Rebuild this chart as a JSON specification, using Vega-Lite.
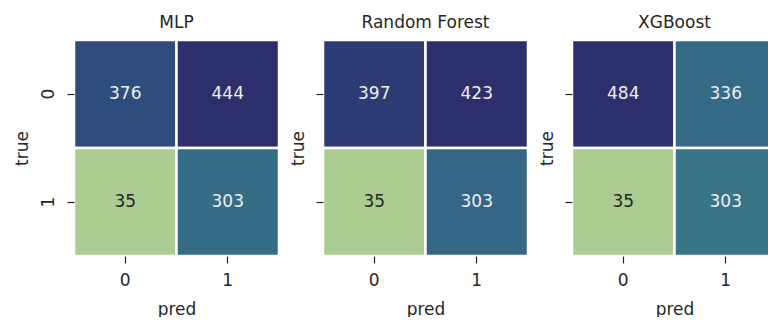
{
  "$schema": "https://vega.github.io/schema/vega-lite/v6.json",
  "padding": {"left": 13, "top": 13, "right": 0, "bottom": 0},
  "background": "white",
  "datasets": {
    "cm": [
      {"model": "MLP", "true": "0", "pred": "0", "n": 376},
      {"model": "MLP", "true": "0", "pred": "1", "n": 444},
      {"model": "MLP", "true": "1", "pred": "0", "n": 35},
      {"model": "MLP", "true": "1", "pred": "1", "n": 303},
      {"model": "Random Forest", "true": "0", "pred": "0", "n": 397},
      {"model": "Random Forest", "true": "0", "pred": "1", "n": 423},
      {"model": "Random Forest", "true": "1", "pred": "0", "n": 35},
      {"model": "Random Forest", "true": "1", "pred": "1", "n": 303},
      {"model": "XGBoost", "true": "0", "pred": "0", "n": 484},
      {"model": "XGBoost", "true": "0", "pred": "1", "n": 336},
      {"model": "XGBoost", "true": "1", "pred": "0", "n": 35},
      {"model": "XGBoost", "true": "1", "pred": "1", "n": 303}
    ]
  },
  "data": {"name": "cm"},
  "spacing": 44,
  "bounds": "flush",
  "hconcat": [
    {
      "title": "MLP",
      "width": 205,
      "height": 216,
      "transform": [{"filter": "datum.model === 'MLP'"}],
      "encoding": {
        "x": {"field": "pred", "type": "ordinal", "title": "pred", "scale": {"paddingInner": 0, "paddingOuter": 0}},
        "y": {"field": "true", "type": "ordinal", "title": "true", "scale": {"paddingInner": 0, "paddingOuter": 0},
              "axis": {"labelAngle": 270, "labelAlign": "center", "labelBaseline": "alphabetic", "labelPadding": 14}}
      },
      "layer": [
        {"mark": {"type": "rect", "stroke": "white", "strokeWidth": 2.5},
         "encoding": {"color": {"field": "n", "type": "quantitative", "legend": null,
           "scale": {"zero": false, "nice": false, "range": ["#abcd91", "#88bb8f", "#68a78d", "#4f968b", "#418589", "#387087", "#335e83", "#2e4578", "#2c2f6c"]}}}},
        {"mark": {"type": "text", "font": "DejaVu Sans", "fontSize": 17},
         "encoding": {"text": {"field": "n", "type": "quantitative"},
           "color": {"condition": {"test": "datum.n < 150", "value": "#262626"}, "value": "#eeeeee"}}}
      ],
      "resolve": {"scale": {"color": "independent"}}
    },
    {
      "title": "Random Forest",
      "width": 205,
      "height": 216,
      "transform": [{"filter": "datum.model === 'Random Forest'"}],
      "encoding": {
        "x": {"field": "pred", "type": "ordinal", "title": "pred", "scale": {"paddingInner": 0, "paddingOuter": 0}},
        "y": {"field": "true", "type": "ordinal", "title": "true", "scale": {"paddingInner": 0, "paddingOuter": 0},
              "axis": {"labels": false}}
      },
      "layer": [
        {"mark": {"type": "rect", "stroke": "white", "strokeWidth": 2.5},
         "encoding": {"color": {"field": "n", "type": "quantitative", "legend": null,
           "scale": {"zero": false, "nice": false, "range": ["#abcd91", "#88bb8f", "#68a78d", "#4f968b", "#418589", "#387087", "#335e83", "#2e4578", "#2c2f6c"]}}}},
        {"mark": {"type": "text", "font": "DejaVu Sans", "fontSize": 17},
         "encoding": {"text": {"field": "n", "type": "quantitative"},
           "color": {"condition": {"test": "datum.n < 150", "value": "#262626"}, "value": "#eeeeee"}}}
      ],
      "resolve": {"scale": {"color": "independent"}}
    },
    {
      "title": "XGBoost",
      "width": 205,
      "height": 216,
      "transform": [{"filter": "datum.model === 'XGBoost'"}],
      "encoding": {
        "x": {"field": "pred", "type": "ordinal", "title": "pred", "scale": {"paddingInner": 0, "paddingOuter": 0}},
        "y": {"field": "true", "type": "ordinal", "title": "true", "scale": {"paddingInner": 0, "paddingOuter": 0},
              "axis": {"labels": false}}
      },
      "layer": [
        {"mark": {"type": "rect", "stroke": "white", "strokeWidth": 2.5},
         "encoding": {"color": {"field": "n", "type": "quantitative", "legend": null,
           "scale": {"zero": false, "nice": false, "range": ["#abcd91", "#88bb8f", "#68a78d", "#4f968b", "#418589", "#387087", "#335e83", "#2e4578", "#2c2f6c"]}}}},
        {"mark": {"type": "text", "font": "DejaVu Sans", "fontSize": 17},
         "encoding": {"text": {"field": "n", "type": "quantitative"},
           "color": {"condition": {"test": "datum.n < 150", "value": "#262626"}, "value": "#eeeeee"}}}
      ],
      "resolve": {"scale": {"color": "independent"}}
    }
  ],
  "resolve": {"scale": {"color": "independent"}},
  "config": {
    "view": {"stroke": null},
    "axis": {
      "domain": false,
      "grid": false,
      "labelFont": "DejaVu Sans",
      "titleFont": "DejaVu Sans",
      "labelFontSize": 17,
      "titleFontSize": 17,
      "labelColor": "#262626",
      "titleColor": "#262626",
      "tickColor": "#262626",
      "tickSize": 7,
      "tickWidth": 1.2,
      "titleFontWeight": "normal"
    },
    "axisX": {"labelAngle": 0, "labelPadding": 9, "titlePadding": 13},
    "axisY": {"titlePadding": 8},
    "title": {"font": "DejaVu Sans", "fontSize": 17, "fontWeight": "normal", "color": "#262626", "offset": 7}
  }
}
